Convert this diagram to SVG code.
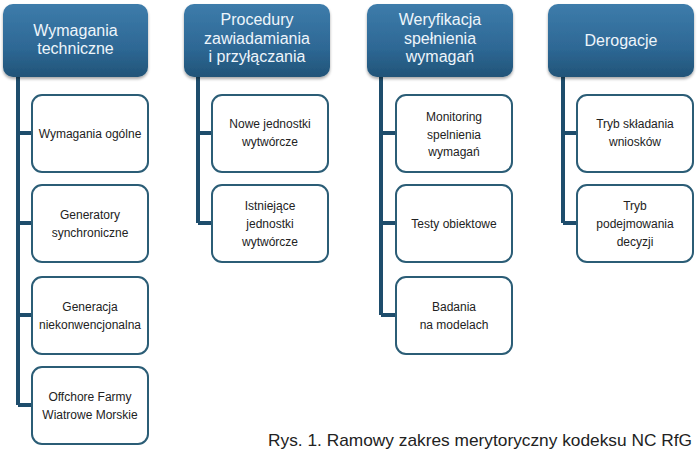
<svg xmlns="http://www.w3.org/2000/svg" width="698" height="453" viewBox="0 0 698 453">
<defs>
<linearGradient id="hg" x1="0" y1="0" x2="0" y2="1">
<stop offset="0" stop-color="#3d7cab"/>
<stop offset="0.6" stop-color="#2e6895"/>
<stop offset="1" stop-color="#215478"/>
</linearGradient>
<filter id="sh" x="-10%" y="-10%" width="120%" height="130%">
<feGaussianBlur in="SourceAlpha" stdDeviation="1.5"/>
<feOffset dx="0" dy="2" result="b"/>
<feComponentTransfer><feFuncA type="linear" slope="0.35"/></feComponentTransfer>
<feMerge><feMergeNode/><feMergeNode in="SourceGraphic"/></feMerge>
</filter>
</defs>
<style>
.hdr{fill:url(#hg);filter:url(#sh)}
.ht{font-family:"Liberation Sans",Arial,sans-serif;font-size:16px;fill:#eef5fb;text-anchor:middle}
.box{fill:#ffffff;stroke:#2b5d76;stroke-width:2}
.bt{font-family:"Liberation Sans",Arial,sans-serif;font-size:12px;fill:#222;text-anchor:middle}
.ln{stroke:#1e4d6c;stroke-width:4;fill:none}
.cap{font-family:"Liberation Sans",Arial,sans-serif;font-size:17px;fill:#222}
</style>
<rect width="698" height="453" fill="#ffffff"/>

<g id="connectors">
<path class="ln" d="M18 77V405M18 133H32M18 223H32M18 315H32M18 405H32"/>
<path class="ln" d="M198 77V223M198 133H212M198 223H212"/>
<path class="ln" d="M381 77V315M381 133H396M381 223H396M381 315H396"/>
<path class="ln" d="M563 77V223M563 133H577M563 223H577"/>
</g>

<g id="h1"><rect class="hdr" x="3" y="4" width="145" height="73" rx="10"/>
<text class="ht" x="75.5" y="36">Wymagania</text><text class="ht" x="75.5" y="54">techniczne</text></g>
<g id="h2"><rect class="hdr" x="184" y="4" width="146" height="73" rx="10"/>
<text class="ht" x="257" y="25">Procedury</text><text class="ht" x="257" y="43.5">zawiadamiania</text><text class="ht" x="257" y="62">i przyłączania</text></g>
<g id="h3"><rect class="hdr" x="367" y="4" width="146" height="73" rx="10"/>
<text class="ht" x="440" y="25">Weryfikacja</text><text class="ht" x="440" y="43.5">spełnienia</text><text class="ht" x="440" y="62">wymagań</text></g>
<g id="h4"><rect class="hdr" x="548" y="4" width="146" height="73" rx="10"/>
<text class="ht" x="621" y="46">Derogacje</text></g>

<g id="c1a"><rect class="box" x="32" y="95" width="116" height="77" rx="10"/>
<text class="bt" x="90" y="137.5">Wymagania ogólne</text></g>
<g id="c1b"><rect class="box" x="32" y="185" width="116" height="77" rx="10"/>
<text class="bt" x="90" y="219">Generatory</text><text class="bt" x="90" y="237">synchroniczne</text></g>
<g id="c1c"><rect class="box" x="32" y="277" width="116" height="77" rx="10"/>
<text class="bt" x="90" y="311">Generacja</text><text class="bt" x="90" y="329">niekonwencjonalna</text></g>
<g id="c1d"><rect class="box" x="32" y="367" width="116" height="77" rx="10"/>
<text class="bt" x="90" y="401">Offchore Farmy</text><text class="bt" x="90" y="419">Wiatrowe Morskie</text></g>

<g id="c2a"><rect class="box" x="212" y="95" width="116" height="77" rx="10"/>
<text class="bt" x="270" y="128">Nowe jednostki</text><text class="bt" x="270" y="146">wytwórcze</text></g>
<g id="c2b"><rect class="box" x="212" y="185" width="116" height="77" rx="10"/>
<text class="bt" x="270" y="210">Istniejące</text><text class="bt" x="270" y="228">jednostki</text><text class="bt" x="270" y="246">wytwórcze</text></g>

<g id="c3a"><rect class="box" x="396" y="95" width="116" height="77" rx="10"/>
<text class="bt" x="454" y="121">Monitoring</text><text class="bt" x="454" y="138.5">spelnienia</text><text class="bt" x="454" y="156">wymagań</text></g>
<g id="c3b"><rect class="box" x="396" y="185" width="116" height="77" rx="10"/>
<text class="bt" x="454" y="227.5">Testy obiektowe</text></g>
<g id="c3c"><rect class="box" x="396" y="277" width="116" height="77" rx="10"/>
<text class="bt" x="454" y="311">Badania</text><text class="bt" x="454" y="329">na modelach</text></g>

<g id="c4a"><rect class="box" x="577" y="95" width="116" height="77" rx="10"/>
<text class="bt" x="635" y="128">Tryb składania</text><text class="bt" x="635" y="146">wniosków</text></g>
<g id="c4b"><rect class="box" x="577" y="185" width="116" height="77" rx="10"/>
<text class="bt" x="635" y="210">Tryb</text><text class="bt" x="635" y="228">podejmowania</text><text class="bt" x="635" y="246">decyzji</text></g>

<text class="cap" x="268" y="446" textLength="424" lengthAdjust="spacingAndGlyphs">Rys. 1. Ramowy zakres merytoryczny kodeksu NC RfG</text>
</svg>
